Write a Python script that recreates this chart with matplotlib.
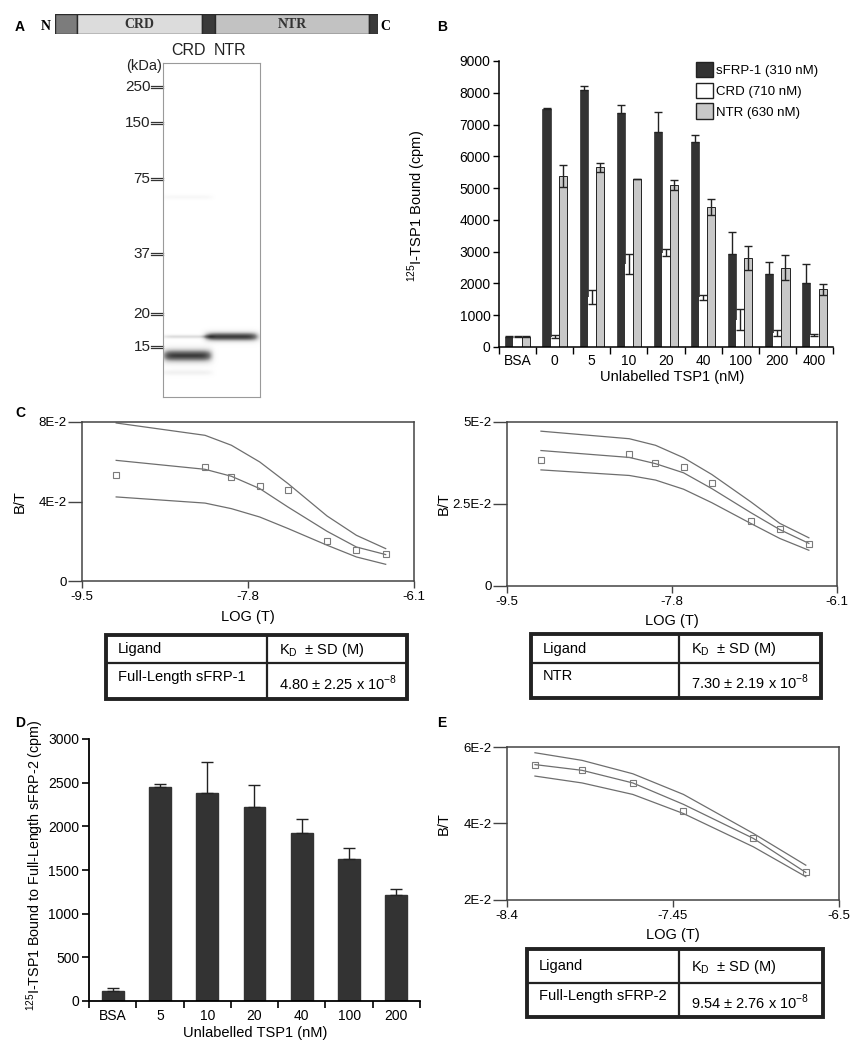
import numpy as np
import matplotlib
matplotlib.use("Agg")
import matplotlib.pyplot as plt
from matplotlib.patches import Rectangle

plt.rcParams["font.family"] = ["Liberation Sans", "DejaVu Sans"]
plt.rcParams["mathtext.fontset"] = "custom"
plt.rcParams["mathtext.rm"] = "Liberation Sans"

W, H = 854, 1050

# ---- panel A: domain map + gel ----
domain_names = ["", "CRD", "", "NTR", ""]
domain_bounds = [0, 21, 143, 156, 305, 314]
domain_colors = ["#7c7c7c", "#dcdcdc", "#3a3a3a", "#c2c2c2", "#3a3a3a"]

gel_lanes = ["CRD", "NTR"]
marker_kda = ["250", "150", "75", "37", "20", "15"]
marker_mig = [24, 60, 116, 191, 251, 284]
# (lane index, migration, intensity, thickness)
gel_bands = [(0, 293, 0.85, 4.5), (0, 274, 0.25, 1.3), (1, 274, 0.85, 3.2),
             (0, 310, 0.12, 2.0), (0, 134, 0.07, 1.5)]

# ---- panel B ----
b_cats = ["BSA", "0", "5", "10", "20", "40", "100", "200", "400"]
b_sfrp1 = [330, 7480, 8080, 7350, 6760, 6460, 2930, 2290, 2000]
b_sfrp1_err = [30, 30, 120, 250, 640, 200, 680, 380, 620]
b_crd = [330, 330, 1580, 2610, 2970, 1560, 860, 440, 380]
b_crd_err = [20, 60, 220, 320, 100, 70, 340, 90, 20]
b_ntr = [330, 5380, 5650, 5300, 5100, 4400, 2800, 2500, 1820]
b_ntr_err = [20, 350, 150, 0, 150, 250, 380, 380, 170]
b_labels = ["sFRP-1 (310 nM)", "CRD (710 nM)", "NTR (630 nM)"]

# ---- panel C ----
c_logt = [-9.15, -8.24, -7.97, -7.68, -7.39, -6.99, -6.69, -6.39]
c1_bt = [0.0532, 0.0576, 0.0523, 0.0478, 0.0458, 0.0203, 0.0156, 0.0134]
c1_fit = [0.0607, 0.0562, 0.0527, 0.0465, 0.0372, 0.0250, 0.0171, 0.0133]
c1_hi = [0.0795, 0.0733, 0.0683, 0.0599, 0.0490, 0.0327, 0.0230, 0.0163]
c1_lo = [0.0423, 0.0392, 0.0364, 0.0322, 0.0264, 0.0180, 0.0121, 0.0084]
c2_bt = [0.0383, 0.0402, 0.0376, 0.0362, 0.0313, 0.0197, 0.0174, 0.0128]
c2_fit = [0.0413, 0.0392, 0.0373, 0.0345, 0.0297, 0.0224, 0.0172, 0.0130]
c2_hi = [0.0472, 0.0449, 0.0429, 0.0391, 0.0340, 0.0257, 0.0191, 0.0147]
c2_lo = [0.0354, 0.0337, 0.0323, 0.0295, 0.0254, 0.0191, 0.0145, 0.0109]

# ---- panel D ----
d_cats = ["BSA", "5", "10", "20", "40", "100", "200"]
d_vals = [115, 2445, 2387, 2226, 1928, 1622, 1216]
d_err = [30, 42, 348, 253, 161, 130, 66]

# ---- panel E ----
e_logt = [-8.24, -7.97, -7.68, -7.39, -6.99, -6.69]
e_bt = [0.0554, 0.0540, 0.0506, 0.0432, 0.0363, 0.0274]
e_fit = [0.0554, 0.0539, 0.0506, 0.0450, 0.0361, 0.0272]
e_hi = [0.0585, 0.0565, 0.0530, 0.0476, 0.0374, 0.0291]
e_lo = [0.0524, 0.0506, 0.0476, 0.0426, 0.0339, 0.0261]

# ---- KD tables ----
tab_c1 = ["Full-Length sFRP-1", r"4.80 ± 2.25 x 10$^{\mathregular{-8}}$"]
tab_c2 = ["NTR", r"7.30 ± 2.19 x 10$^{\mathregular{-8}}$"]
tab_e = ["Full-Length sFRP-2", r"9.54 ± 2.76 x 10$^{\mathregular{-8}}$"]

DARK = "#333333"
LINE = "#6e6e6e"

fig = plt.figure(figsize=(W / 100, H / 100), dpi=100)


def px_axes(x0, y0, x1, y1):
    return fig.add_axes([x0 / W, 1 - y1 / H, (x1 - x0) / W, (y1 - y0) / H])


def ftext(x, y, s, **kw):
    fig.text(x / W, 1 - y / H, s, **kw)


# panel letters
for letter, (x, y) in zip("ABCDE", [(15, 27), (437, 27), (15, 413), (15, 723), (437, 723)]):
    ftext(x, y, letter, fontsize=10, fontweight="bold", ha="left", va="center")

# ---------------- A: domain bar ----------------
ax = px_axes(55, 14, 378, 34)
for name, a, b, col in zip(domain_names, domain_bounds[:-1], domain_bounds[1:], domain_colors):
    ax.add_patch(Rectangle((a, 0), b - a, 1, facecolor=col, edgecolor="#2a2a2a", lw=1.0))
    if name:
        ax.text((a + b) / 2, 0.45, name, ha="center", va="center", fontsize=10,
                fontweight="bold", family="Liberation Serif", color="#333333")
ax.set_xlim(domain_bounds[0], domain_bounds[-1])
ax.set_ylim(0, 1)
ax.axis("off")
ftext(46, 26, "N", fontsize=10, fontweight="bold", family="Liberation Serif", ha="center", va="center")
ftext(385, 27, "C", fontsize=10, fontweight="bold", family="Liberation Serif", ha="center", va="center")

# ---------------- A: gel ----------------
gel_len = 334
ax = px_axes(163, 63, 260, 397)
lane_cx = [0.25, 0.71]
lane_hw = [0.26, 0.28]
xs = np.linspace(0, 1, 120)
ys = np.arange(gel_len + 1)
X, Y = np.meshgrid(xs, ys)
img = np.zeros_like(X)
for lane, mig, inten, thick in gel_bands:
    img += inten * np.exp(-((X - lane_cx[lane]) / lane_hw[lane]) ** 8) * np.exp(-0.5 * ((Y - mig) / thick) ** 2)
ax.imshow(np.clip(img, 0, 1), cmap="Greys", vmin=0, vmax=1.05, extent=(0, 1, gel_len, 0),
          aspect="auto", interpolation="bilinear")
ax.set_xlim(0, 1)
ax.set_ylim(gel_len, 0)
ax.set_xticks([])
ax.set_yticks([])
for sp in ax.spines.values():
    sp.set_color("#9a9a9a")
    sp.set_linewidth(0.8)
tr = ax.get_yaxis_transform()
for lab, m in zip(marker_kda, marker_mig):
    for d in (-1.4, 1.4):
        ax.plot([-0.12, -0.005], [m + d, m + d], color="#333333", lw=0.9, transform=tr, clip_on=False)
    ax.text(-0.13, m, lab, transform=tr, ha="right", va="center", fontsize=11, color="#222222")
ax.text(-0.01, 3, "(kDa)", transform=tr, ha="right", va="center", fontsize=10.5, color="#222222")
for lab, cx in zip(gel_lanes, [0.26, 0.69]):
    ax.text(cx, 1.015, lab, transform=ax.transAxes, ha="center", va="bottom", fontsize=11.5, color="#222222")

# ---------------- B ----------------
ax = px_axes(499, 61, 833, 347)
xb = np.arange(len(b_cats))
w = 0.22
ax.bar(xb - w, b_sfrp1, w, color=DARK, edgecolor=DARK, lw=0.5, zorder=2)
ax.bar(xb, b_crd, w, color="white", edgecolor="none", zorder=2)
ax.bar(xb + w, b_ntr, w, color="#c8c8c8", edgecolor="#222222", lw=0.7, zorder=2)
ax.errorbar(xb - w, b_sfrp1, yerr=[np.zeros(len(b_sfrp1)), b_sfrp1_err], fmt="none",
            ecolor="#222222", elinewidth=1, capsize=3, capthick=1, zorder=3)
ax.errorbar(xb, b_crd, yerr=b_crd_err, fmt="none", ecolor="#222222", elinewidth=1,
            capsize=3, capthick=1, zorder=3)
ax.errorbar(xb + w, b_ntr, yerr=b_ntr_err, fmt="none", ecolor="#222222", elinewidth=1,
            capsize=3, capthick=1, zorder=3)
ax.set_xlim(-0.5, len(b_cats) - 0.5)
ax.set_ylim(0, 9000)
ax.set_yticks(range(0, 9001, 1000))
ax.set_xticks(xb)
ax.set_xticklabels(b_cats)
ax.set_xticks(np.arange(-0.5, len(b_cats)), minor=True)
ax.tick_params(axis="x", which="major", length=0, pad=5, labelsize=10)
ax.tick_params(axis="x", which="minor", length=5, width=1)
ax.tick_params(axis="y", length=4, width=1, labelsize=10, pad=2)
for s in ("top", "right"):
    ax.spines[s].set_visible(False)
for s in ("left", "bottom"):
    ax.spines[s].set_linewidth(1.1)
handles = [Rectangle((0, 0), 1, 1, facecolor=DARK, edgecolor="#222222"),
           Rectangle((0, 0), 1, 1, facecolor="white", edgecolor="#222222"),
           Rectangle((0, 0), 1, 1, facecolor="#c8c8c8", edgecolor="#222222")]
fig.legend(handles, b_labels, loc="upper left", bbox_to_anchor=(689 / W, 1 - 55 / H),
           frameon=False, fontsize=9.5, handlelength=1.3, handleheight=1.45,
           handletextpad=0.25, labelspacing=0.4, borderpad=0)
ftext(417, 206, r"$^{\mathregular{125}}$I-TSP1 Bound (cpm)", rotation=90, ha="center",
      va="center", fontsize=10.5)
ftext(672, 377, "Unlabelled TSP1 (nM)", ha="center", va="center", fontsize=10.5)


# ---------------- C / E binding curves ----------------
def binding(rect, logt, bt, fit, hi, lo, xlim, ylim, xt, xtl, yt, ytl, ylab_x, xlab_y):
    ax = px_axes(*rect)
    for curve in (hi, fit, lo):
        ax.plot(logt, curve, color=LINE, lw=0.9)
    ax.plot(logt, bt, ls="none", marker="s", ms=4.2, mfc="none", mec="#7a7a7a", mew=0.8)
    ax.set_xlim(*xlim)
    ax.set_ylim(*ylim)
    ax.set_xticks(xt)
    ax.set_xticklabels(xtl)
    ax.set_yticks(yt)
    ax.set_yticklabels(ytl)
    ax.tick_params(axis="y", length=10, width=1, pad=1, labelsize=9.5, color="#444444")
    ax.tick_params(axis="x", length=5, width=1, pad=2, labelsize=9.5, color="#444444")
    for sp in ax.spines.values():
        sp.set_color("#444444")
        sp.set_linewidth(1.1)
    cx = (rect[0] + rect[2]) / 2
    cy = (rect[1] + rect[3]) / 2
    ftext(ylab_x, cy, "B/T", rotation=90, ha="center", va="center", fontsize=10.5)
    ftext(cx, xlab_y, "LOG (T)", ha="center", va="center", fontsize=10.5)
    return ax


binding((82, 422, 414, 581), c_logt, c1_bt, c1_fit, c1_hi, c1_lo, (-9.5, -6.1), (0, 0.08),
        [-9.5, -7.8, -6.1], ["-9.5", "-7.8", "-6.1"], [0, 0.04, 0.08], ["0", "4E-2", "8E-2"],
        20, 617)
binding((507, 422, 837, 586), c_logt, c2_bt, c2_fit, c2_hi, c2_lo, (-9.5, -6.1), (0, 0.05),
        [-9.5, -7.8, -6.1], ["-9.5", "-7.8", "-6.1"], [0, 0.025, 0.05], ["0", "2.5E-2", "5E-2"],
        444, 621)
binding((507, 747, 839, 900), e_logt, e_bt, e_fit, e_hi, e_lo, (-8.4, -6.5), (0.02, 0.06),
        [-8.4, -7.45, -6.5], ["-8.4", "-7.45", "-6.5"], [0.02, 0.04, 0.06], ["2E-2", "4E-2", "6E-2"],
        444, 935)


# ---------------- KD tables ----------------
def kd_table(rect, colx, rowy, row):
    x0, y0, x1, y1 = rect
    ax = px_axes(x0, y0, x1, y1)
    ax.set_xlim(x0, x1)
    ax.set_ylim(y1, y0)
    ax.axis("off")
    ax.add_patch(Rectangle((x0, y0), x1 - x0, y1 - y0, fill=False, lw=2.8, edgecolor="#222222", clip_on=False))
    ax.plot([colx, colx], [y0, y1], color="#222222", lw=1.6)
    ax.plot([x0, x1], [rowy, rowy], color="#222222", lw=1.6)
    ax.text(x0 + 12, (y0 + rowy) / 2, "Ligand", ha="left", va="center", fontsize=10.5)
    ax.text(colx + 12, (y0 + rowy) / 2 + 1, r"K$_{\mathregular{D}}$  ± SD (M)", ha="left", va="center", fontsize=10.5)
    ax.text(x0 + 12, (rowy + y1) / 2 - 4, row[0], ha="left", va="center", fontsize=10.5)
    ax.text(colx + 12, (rowy + y1) / 2 + 2, row[1], ha="left", va="center", fontsize=10.5)


kd_table((106, 635, 407, 699), 267, 663, tab_c1)
kd_table((531, 634, 821, 698), 679, 663, tab_c2)
kd_table((527, 949, 823, 1017), 679, 983, tab_e)

# ---------------- D ----------------
ax = px_axes(89, 739, 420, 1001)
xd = np.arange(len(d_cats))
ax.bar(xd, d_vals, 0.46, color=DARK, edgecolor=DARK, zorder=2)
ax.errorbar(xd, d_vals, yerr=[np.zeros(len(d_vals)), d_err], fmt="none", ecolor="#222222",
            elinewidth=1, capsize=4, capthick=1, zorder=3)
ax.set_xlim(-0.5, len(d_cats) - 0.5)
ax.set_ylim(0, 3000)
ax.set_yticks(range(0, 3001, 500))
ax.set_xticks(xd)
ax.set_xticklabels(d_cats)
ax.set_xticks(np.arange(-0.5, len(d_cats)), minor=True)
ax.tick_params(axis="x", which="major", length=0, pad=6, labelsize=10)
ax.tick_params(axis="x", which="minor", length=5, width=1.2)
ax.tick_params(axis="y", length=5, width=1.2, labelsize=10, pad=2)
for s in ("top", "right"):
    ax.spines[s].set_visible(False)
for s in ("left", "bottom"):
    ax.spines[s].set_linewidth(1.3)
ftext(35, 865, r"$^{\mathregular{125}}$I-TSP1 Bound to Full-Length sFRP-2 (cpm)", rotation=90,
      ha="center", va="center", fontsize=10.3)
ftext(255, 1033, "Unlabelled TSP1 (nM)", ha="center", va="center", fontsize=10.5)

fig.savefig("out.png", dpi=100)
